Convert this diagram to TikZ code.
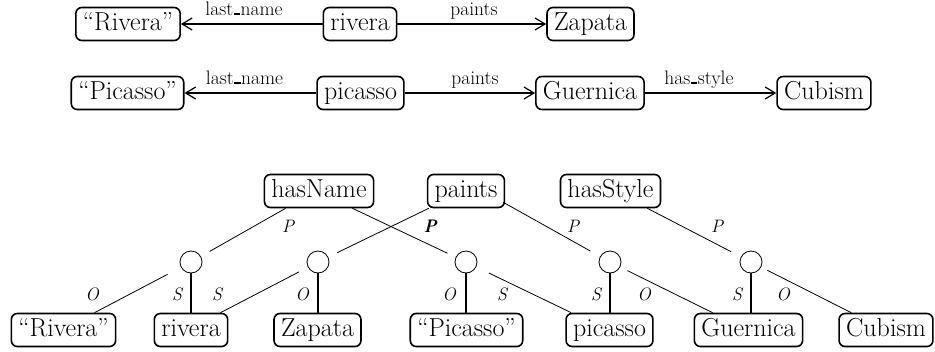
\documentclass[tikz,border=0pt]{standalone}
\usepackage{fontspec}
\usetikzlibrary{arrows.meta}
% short, heavy underscore bar used in relation names
\newcommand{\ubar}{\kern0.5pt\rule{6.5pt}{2.4pt}\kern0.5pt}
\begin{document}
\begin{tikzpicture}[x=1pt,y=-1pt,
  box/.style={draw, line width=1.6pt, rounded corners=6pt, minimum height=33pt,
    inner xsep=7pt, inner ysep=0pt, text height=18pt, text depth=5pt,
    font=\fontsize{26}{30}\selectfont},
  rel/.style={line width=1.6pt, -{Straight Barb[length=10pt,width=12pt,line width=1.2pt]}},
  rellabel/.style={font=\fontsize{19.5}{22}\selectfont, anchor=base, inner sep=0pt},
  role/.style={font=\fontsize{18}{20}\selectfont\itshape, inner sep=0pt},
  blank/.style={circle, draw, line width=0.8pt, minimum size=22pt, inner sep=0pt},
  arc/.style={line width=0.8pt},
  stem/.style={line width=1.6pt}]
\useasboundingbox (0,0) rectangle (935,351);

% ---- plain triples: Rivera ----
\node[box] (tRivQ) at (128,24)  {``Rivera''};
\node[box] (tRiv)  at (360,24)  {rivera};
\node[box] (tZap)  at (590.5,24) {Zapata};
\draw[rel] (tRiv) -- (tRivQ);
\draw[rel] (tRiv) -- (tZap);
\node[rellabel] (lRivName)  at (244,15) {last\ubar name};
\node[rellabel] (lRivPaint) at (474,15) {paints};

% ---- plain triples: Picasso ----
\node[box] (tPicQ) at (127.5,93) {``Picasso''};
\node[box] (tPic)  at (360.5,93) {picasso};
\node[box] (tGue)  at (590,93)   {Guernica};
\node[box] (tCub)  at (824,93)   {Cubism};
\draw[rel] (tPic) -- (tPicQ);
\draw[rel] (tPic) -- (tGue);
\draw[rel] (tGue) -- (tCub);
\node[rellabel] (lPicName)  at (244.5,84) {last\ubar name};
\node[rellabel] (lPicPaint) at (475,84)   {paints};
\node[rellabel] (lPicStyle) at (699,84)   {has\ubar style};

% ---- reified statements ----
\node[box] (hasName)  at (319,191)   {hasName};
\node[box] (paints)   at (466,191)   {paints};
\node[box] (hasStyle) at (610.5,191) {hasStyle};

\node[blank] (c1) at (191,262) {};
\node[blank] (c2) at (318,262) {};
\node[blank] (c3) at (466,262) {};
\node[blank] (c4) at (610,262) {};
\node[blank] (c5) at (751,262) {};

\node[box] (bRivQ) at (63.5,330)  {``Rivera''};
\node[box] (bRiv)  at (191,330)   {rivera};
\node[box] (bZap)  at (317.5,330) {Zapata};
\node[box] (bPicQ) at (466.5,330) {``Picasso''};
\node[box] (bPic)  at (609.5,330) {picasso};
\node[box] (bGue)  at (748.5,330) {Guernica};
\node[box] (bCub)  at (886,330)   {Cubism};

% predicates
\draw[arc, shorten >=10pt] ([xshift=22pt]hasName.south west) -- (c1);
\draw[arc, shorten >=9pt]  ([xshift=-22pt]hasName.south east) -- (c3);
\draw[arc, shorten >=10pt] ([xshift=2pt]paints.south west) -- (c2);
\draw[arc, shorten >=11pt] ([xshift=-2pt,yshift=6pt]paints.south east) -- (c4);
\draw[arc, shorten >=11pt] ([xshift=-14pt]hasStyle.south east) -- (c5);

% subjects and objects
\draw[arc, shorten <=15pt] (c1) -- ([xshift=-22pt]bRivQ.north east);
\draw[stem] (c1) -- (c1 |- bRiv.north);
\draw[arc, shorten <=10pt] (c2) -- ([xshift=-8pt]bRiv.north east);
\draw[stem] (c2) -- (c2 |- bZap.north);
\draw[stem] (c3) -- (c3 |- bPicQ.north);
\draw[arc, shorten <=14pt] (c3) -- ([xshift=6pt]bPic.north west);
\draw[stem] (c4) -- (c4 |- bPic.north);
\draw[arc, shorten <=8pt] (c4) -- ([xshift=19pt]bGue.north west);
\draw[stem] (c5) -- (c5 |- bGue.north);
\draw[arc, shorten <=7pt] (c5) -- ([xshift=13pt]bCub.north west);

% role labels
\node[role] (p1)  at (288,226)   {P};
\node[role] (p2a) at (429.5,226) {P};
\node[role] (p2b) at (430.5,226) {P};
\node[role] (p4)  at (573,226)   {P};
\node[role] (p5)  at (717,226)   {P};

\node[role] (o1) at (92,294)  {O};
\node[role] (s1) at (177,294) {S};
\node[role] (s2) at (217,294) {S};
\node[role] (o2) at (302,294) {O};
\node[role] (o3) at (449,294) {O};
\node[role] (s3) at (502,294) {S};
\node[role] (s4) at (596,294) {S};
\node[role] (o4) at (644,294) {O};
\node[role] (s5) at (737,294) {S};
\node[role] (o5) at (783,294) {O};
\end{tikzpicture}
\end{document}
